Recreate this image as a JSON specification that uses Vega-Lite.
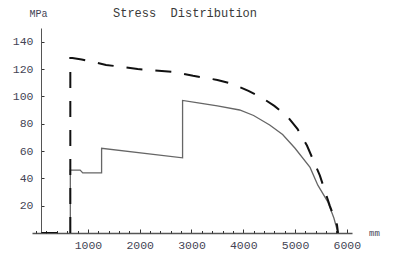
{
  "$schema": "https://vega.github.io/schema/vega-lite/v6.json",
  "autosize": "none",
  "width": 320,
  "height": 205,
  "padding": {"left": 32, "top": 28, "right": 49, "bottom": 37},
  "background": "white",
  "title": {
    "text": "Stress\u00a0 Distribution",
    "font": "Liberation Mono",
    "fontSize": 12,
    "fontWeight": "normal",
    "color": "#3a3a3a",
    "anchor": "middle",
    "frame": "group",
    "dx": -7,
    "dy": 20,
    "offset": 8
  },
  "config": {
    "view": {"stroke": null},
    "axis": {"grid": false, "labelFont": "Liberation Mono", "labelFontSize": 11.5, "labelColor": "#444455", "labelOverlap": false, "titleFont": "Liberation Mono", "titleFontWeight": "normal", "titleFontSize": 11, "titleColor": "#444455", "domainColor": "#555555", "tickColor": "#333333"}
  },
  "datasets": {
    "solid": [
      {"mm": 660, "mpa": 0},
      {"mm": 660, "mpa": 46},
      {"mm": 850, "mpa": 46},
      {"mm": 900, "mpa": 44},
      {"mm": 1264, "mpa": 44},
      {"mm": 1264, "mpa": 62},
      {"mm": 2828, "mpa": 55},
      {"mm": 2828, "mpa": 97},
      {"mm": 3160, "mpa": 95},
      {"mm": 3500, "mpa": 93},
      {"mm": 3930, "mpa": 90},
      {"mm": 4200, "mpa": 86},
      {"mm": 4510, "mpa": 79},
      {"mm": 4760, "mpa": 72},
      {"mm": 5000, "mpa": 62},
      {"mm": 5290, "mpa": 48},
      {"mm": 5440, "mpa": 35},
      {"mm": 5630, "mpa": 23},
      {"mm": 5750, "mpa": 11},
      {"mm": 5830, "mpa": 0}
    ],
    "dashed": [
      {"mm": 100, "mpa": 0},
      {"mm": 660, "mpa": 0},
      {"mm": 660, "mpa": 128},
      {"mm": 700, "mpa": 128},
      {"mm": 880, "mpa": 127},
      {"mm": 1350, "mpa": 123},
      {"mm": 1960, "mpa": 120},
      {"mm": 2620, "mpa": 118},
      {"mm": 3030, "mpa": 115},
      {"mm": 3500, "mpa": 112},
      {"mm": 3800, "mpa": 109},
      {"mm": 4100, "mpa": 104},
      {"mm": 4360, "mpa": 99},
      {"mm": 4600, "mpa": 93},
      {"mm": 4860, "mpa": 85},
      {"mm": 5050, "mpa": 76},
      {"mm": 5230, "mpa": 64},
      {"mm": 5480, "mpa": 42},
      {"mm": 5670, "mpa": 20},
      {"mm": 5810, "mpa": 6},
      {"mm": 5830, "mpa": 0}
    ]
  },
  "layer": [
    {
      "data": {"name": "solid"},
      "mark": {"type": "line", "color": "#666666", "strokeWidth": 1.3, "clip": true},
      "encoding": {
        "x": {"field": "mm", "type": "quantitative", "scale": {"domain": [-80, 6100], "nice": false, "zero": false},
          "axis": {"orient": "bottom", "values": [1000, 2000, 3000, 4000, 5000, 6000], "format": "d", "tickSize": -4, "labelPadding": 10, "labelOverlap": false, "domainWidth": 1.5, "title": "mm", "titleX": 342, "titleY": -1, "titleAlign": "center", "titleBaseline": "middle", "titleFontSize": 9}},
        "y": {"field": "mpa", "type": "quantitative", "scale": {"domain": [0, 150], "nice": false},
          "axis": {"orient": "left", "offset": -9, "values": [20, 40, 60, 80, 100, 120, 140], "tickSize": -3, "labelPadding": 11, "labelOverlap": false, "labelFlush": false, "domainWidth": 1, "title": "MPa", "titleAngle": 0, "titleX": -3, "titleY": -15, "titleAlign": "center", "titleBaseline": "middle", "titleFontSize": 10}},
        "order": {"field": "idx"}
      }
    },
    {
      "data": {"name": "dashed"},
      "mark": {"type": "line", "color": "#111111", "strokeWidth": 2, "strokeDash": [16, 13], "clip": true},
      "encoding": {
        "x": {"field": "mm", "type": "quantitative", "axis": {"orient": "bottom", "values": [0, 200, 400, 600, 800, 1200, 1400, 1600, 1800, 2200, 2400, 2600, 2800, 3200, 3400, 3600, 3800, 4200, 4400, 4600, 4800, 5200, 5400, 5600, 5800], "labels": false, "domain": false, "tickSize": -2.5, "title": null}},
        "y": {"field": "mpa", "type": "quantitative", "axis": {"orient": "left", "offset": -9, "values": [20, 40, 60, 80, 100, 120, 140], "tickSize": -3, "labelPadding": 11, "labelOverlap": false, "labelFlush": false, "domainWidth": 1, "title": "MPa", "titleAngle": 0, "titleX": -3, "titleY": -15, "titleAlign": "center", "titleBaseline": "middle", "titleFontSize": 10}}
      }
    }
  ],
  "resolve": {"axis": {"x": "independent"}}
}
